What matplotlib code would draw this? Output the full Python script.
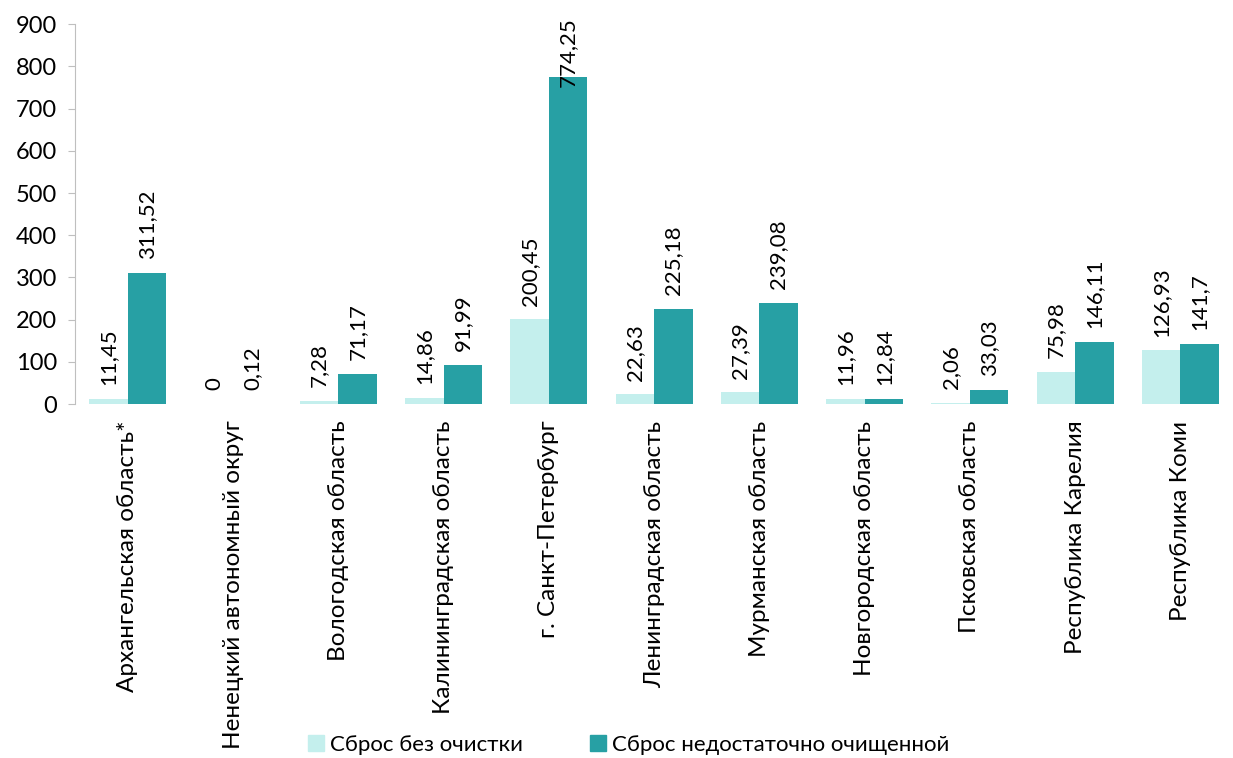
import matplotlib
matplotlib.use("Agg")
import matplotlib.pyplot as plt
import matplotlib.patches as mpatches
import numpy as np

plt.rcParams['font.family'] = ['Lato', 'Open Sans', 'DejaVu Sans']

regions = ['Архангельская область*', 'Ненецкий автономный округ', 'Вологодская область',
           'Калининградская область', 'г. Санкт-Петербург', 'Ленинградская область',
           'Мурманская область', 'Новгородская область', 'Псковская область',
           'Республика Карелия', 'Республика Коми']
no_treatment = [11.45, 0, 7.28, 14.86, 200.45, 22.63, 27.39, 11.96, 2.06, 75.98, 126.93]
poorly_treated = [311.52, 0.12, 71.17, 91.99, 774.25, 225.18, 239.08, 12.84, 33.03, 146.11, 141.7]
series_names = ['Сброс без очистки', 'Сброс недостаточно очищенной']

light = '#c4efed'
dark = '#27a0a4'


def fmt(v):
    return ('%g' % v).replace('.', ',')


fig = plt.figure(figsize=(12.33, 7.58), dpi=100)
ax = fig.add_axes([0.061, 0.467, 0.939, 0.501])

x = np.arange(len(regions))
w = 0.365
ax.bar(x - w / 2, no_treatment, w, color=light)
ax.bar(x + w / 2, poorly_treated, w, color=dark)

# data labels, rotated like in the original
for xs, vals in ((x - w / 2, no_treatment), (x + w / 2, poorly_treated)):
    for xi, v in zip(xs, vals):
        if v > 700:
            # does not fit above the bar, pushed down to the top of the plot
            ax.text(xi, 916, fmt(v), rotation=90, ha='center', va='top',
                    fontsize=16, clip_on=False)
        else:
            ax.annotate(fmt(v), (xi, v), xytext=(0, 10), textcoords='offset points',
                        rotation=90, ha='center', va='bottom', fontsize=16)

ax.set_xlim(-0.5, len(regions) - 0.5)
ax.set_ylim(0, 900)
ax.set_yticks(range(0, 901, 100))
ax.set_xticks(x)
ax.set_xticklabels(regions, rotation=90, fontsize=17.5)
ax.tick_params(axis='x', length=0, pad=12)
ax.tick_params(axis='y', labelsize=17, length=5, color='#bfbfbf', pad=8)

for s in ('top', 'right', 'bottom'):
    ax.spines[s].set_visible(False)
ax.spines['left'].set_color('#bfbfbf')

patches = [mpatches.Patch(color=light, label=series_names[0]),
           mpatches.Patch(color=dark, label=series_names[1])]
fig.legend(handles=patches, loc='lower center', bbox_to_anchor=(0.51, -0.022), ncol=2,
           frameon=False, fontsize=16, handlelength=0.7, handleheight=0.7,
           handletextpad=0.3, columnspacing=3)

fig.savefig('out.png', dpi=100)
